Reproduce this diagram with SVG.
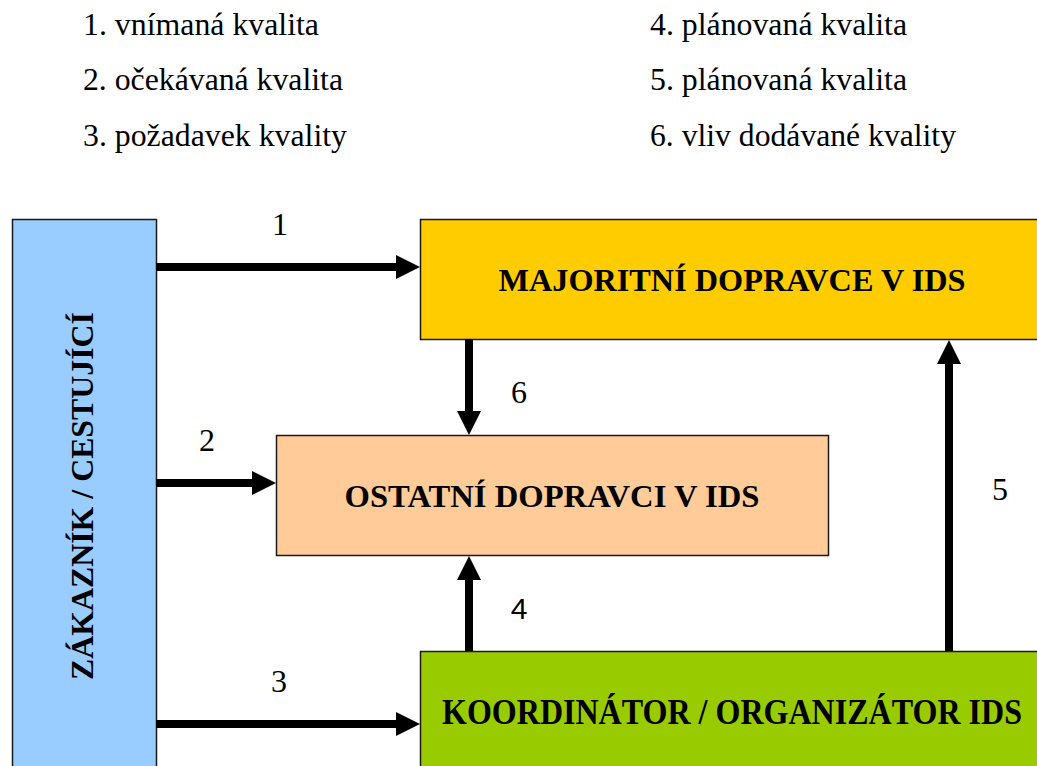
<svg xmlns="http://www.w3.org/2000/svg" width="1037" height="766" viewBox="0 0 1037 766">
<style>
.list{font-family:'Liberation Serif','DejaVu Serif',serif;font-size:31px;fill:#000}
.lbl{font-family:'Liberation Serif','DejaVu Serif',serif;font-size:32px;fill:#000;text-anchor:middle}
.lbls{font-family:'Liberation Sans','DejaVu Sans',sans-serif;font-size:30px;fill:#000;text-anchor:middle}
.box{stroke:#1a1a1a;stroke-width:1.5}
.title{font-family:'Liberation Serif','DejaVu Serif',serif;font-size:32px;font-weight:bold;fill:#000;text-anchor:middle}
.conn{stroke:#000;stroke-width:8;fill:none;marker-end:url(#ah)}
</style>
<defs>
<marker id="ah" markerUnits="userSpaceOnUse" markerWidth="24" markerHeight="24" refX="0" refY="12" orient="auto">
<path d="M0,0 L24,12 L0,24 z" fill="#000"/>
</marker>
</defs>
<rect width="1037" height="766" fill="#fff"/>
<g id="legend">
<text class="list" x="83" y="35" textLength="236" lengthAdjust="spacingAndGlyphs">1. vnímaná kvalita</text>
<text class="list" x="83" y="90" textLength="260" lengthAdjust="spacingAndGlyphs">2. očekávaná kvalita</text>
<text class="list" x="83" y="146" textLength="264" lengthAdjust="spacingAndGlyphs">3. požadavek kvality</text>
<text class="list" x="650" y="35" textLength="257" lengthAdjust="spacingAndGlyphs">4. plánovaná kvalita</text>
<text class="list" x="650" y="90" textLength="257" lengthAdjust="spacingAndGlyphs">5. plánovaná kvalita</text>
<text class="list" x="650" y="146" textLength="306" lengthAdjust="spacingAndGlyphs">6. vliv dodávané kvality</text>
</g>
<g id="node-zakaznik">
<rect class="box" x="12.5" y="219.5" width="144" height="560" fill="#99CCFF"/>
<text class="title" transform="translate(93,496) rotate(-90)" textLength="368" lengthAdjust="spacingAndGlyphs">ZÁKAZNÍK / CESTUJÍCÍ</text>
</g>
<g id="node-majoritni">
<rect class="box" x="420.5" y="219.5" width="630" height="120" fill="#FFCC00"/>
<text class="title" x="732" y="291" textLength="467" lengthAdjust="spacingAndGlyphs">MAJORITNÍ DOPRAVCE V IDS</text>
</g>
<g id="node-ostatni">
<rect class="box" x="276.5" y="435.5" width="552" height="120" fill="#FFCC99"/>
<text class="title" x="552" y="507" textLength="415" lengthAdjust="spacingAndGlyphs">OSTATNÍ DOPRAVCI V IDS</text>
</g>
<g id="node-koordinator">
<rect class="box" x="420.5" y="651.5" width="630" height="130" fill="#99CC00"/>
<text class="title" x="732" y="724" style="font-size:35px" textLength="580" lengthAdjust="spacingAndGlyphs">KOORDINÁTOR / ORGANIZÁTOR IDS</text>
</g>
<g id="connectors">
<line class="conn" x1="156" y1="267" x2="396" y2="267"/>
<line class="conn" x1="156" y1="483" x2="252" y2="483"/>
<line class="conn" x1="156" y1="724" x2="396" y2="724"/>
<line class="conn" x1="469" y1="339" x2="469" y2="411"/>
<line class="conn" x1="469" y1="651" x2="469" y2="580"/>
<line class="conn" x1="949" y1="651" x2="949" y2="364"/>
<text class="lbl" x="280" y="235">1</text>
<text class="lbl" x="207" y="451">2</text>
<text class="lbl" x="279" y="692">3</text>
<text class="lbls" x="519" y="619">4</text>
<text class="lbl" x="1000" y="500">5</text>
<text class="lbl" x="519" y="403">6</text>
</g>
</svg>
